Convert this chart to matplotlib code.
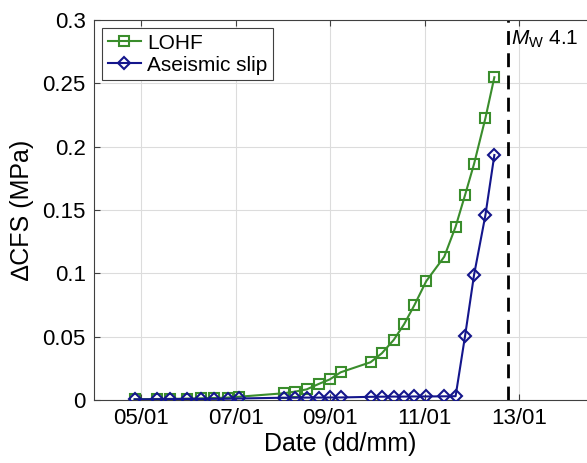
import numpy as np
import matplotlib.pyplot as plt

plt.rcParams['font.family'] = ['Liberation Sans', 'DejaVu Sans']
plt.rcParams['mathtext.fontset'] = 'custom'
plt.rcParams['mathtext.rm'] = 'Liberation Sans'
plt.rcParams['mathtext.it'] = 'Liberation Sans:italic'

# day of January (dd/01)
days = [4.86, 5.33, 5.60, 5.97, 6.26, 6.54, 6.83, 7.07, 8.01, 8.25, 8.50, 8.75, 8.99,
        9.22, 9.85, 10.09, 10.34, 10.56, 10.78, 11.03, 11.41, 11.65, 11.85, 12.04,
        12.28, 12.47]
lohf = [0.0006, 0.0008, 0.0009, 0.0011, 0.0013, 0.0016, 0.0019, 0.0026, 0.0053, 0.0066,
        0.0084, 0.0126, 0.0163, 0.0219, 0.0298, 0.0369, 0.0474, 0.0598, 0.0750, 0.0939,
        0.1131, 0.1368, 0.1618, 0.1863, 0.2224, 0.2548]
aseismic = [0.0005, 0.0006, 0.0007, 0.0008, 0.0008, 0.0009, 0.0010, 0.0012, 0.0018, 0.0018,
            0.0019, 0.0019, 0.0020, 0.0020, 0.0025, 0.0026, 0.0027, 0.0027, 0.0028, 0.0028,
            0.0029, 0.0030, 0.0505, 0.0987, 0.1458, 0.1934]
mainshock_day = 12.75
xticks = [5, 7, 9, 11, 13]
xticklabels = ['05/01', '07/01', '09/01', '11/01', '13/01']
yticks = [0, 0.05, 0.1, 0.15, 0.2, 0.25, 0.3]
yticklabels = ['0', '0.05', '0.1', '0.15', '0.2', '0.25', '0.3']

green = '#3a8d2c'
blue = '#14168c'

fig = plt.figure(figsize=(5.87, 4.63), dpi=100)
ax = fig.add_axes([94 / 587, 1 - 400 / 463, 1 - 94 / 587, 380 / 463])

ax.plot(days, lohf, '-s', color=green, mfc='none', mec=green, ms=6.5, mew=1.5, lw=1.5,
        label='LOHF', zorder=3)
ax.plot(days, aseismic, '-D', color=blue, mfc='none', mec=blue, ms=6, mew=1.5, lw=1.5,
        label='Aseismic slip', zorder=4)
ax.axvline(mainshock_day, color='black', lw=2, ls=(0, (5, 3)), zorder=2)
ax.text(mainshock_day + 0.07, 0.293, r'$M_{\rm W}$ 4.1', fontsize=15, va='top', ha='left')

ax.set_xlim(4.0, 14.43)
ax.set_ylim(0, 0.3)
ax.set_xticks(xticks)
ax.set_xticklabels(xticklabels)
ax.set_yticks(yticks)
ax.set_yticklabels(yticklabels)
ax.tick_params(direction='in', labelsize=16, color='#404040', length=4, pad=6, top=True)
ax.grid(True, color='#dcdcdc', lw=0.8)
ax.set_axisbelow(True)
for s in ['left', 'bottom', 'top']:
    ax.spines[s].set_color('#404040')
    ax.spines[s].set_linewidth(0.8)
ax.spines['right'].set_visible(False)

ax.set_xlabel('Date (dd/mm)', fontsize=18, labelpad=2)
ax.set_ylabel('\u2206CFS (MPa)', fontsize=18, labelpad=6)

leg = ax.legend(loc='upper left', fontsize=15, handlelength=1.6, handletextpad=0.3,
                borderpad=0.25, labelspacing=0.15, borderaxespad=0.4, fancybox=False,
                framealpha=1)
leg.get_frame().set_edgecolor('#404040')
leg.get_frame().set_linewidth(0.8)

fig.savefig('out.png', dpi=100)
